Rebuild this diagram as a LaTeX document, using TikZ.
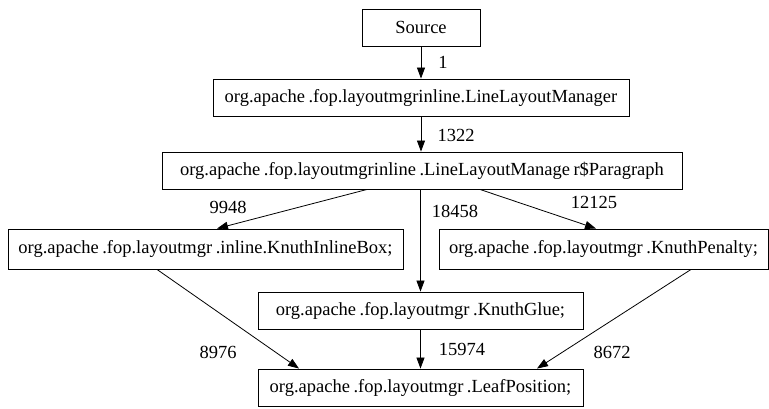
\documentclass[tikz,border=0pt]{standalone}
\usepackage{fontspec}
\setmainfont{Liberation Serif}
\usetikzlibrary{arrows.meta}
\newcommand{\gp}{\kern3.5pt}
\begin{document}
\begin{tikzpicture}[x=1pt,y=1pt,
  box/.style={draw, line width=0.9pt, inner sep=0pt, minimum height=37pt, font=\fontsize{18.5}{22}\selectfont},
  lbl/.style={inner sep=0pt, font=\fontsize{18.5}{22}\selectfont},
  edge/.style={line width=0.8pt, -{Triangle[length=11pt,width=8pt]}}]
\useasboundingbox (0,0) rectangle (769,-408);
\node[box, minimum width=118pt] (src) at (421,-27.5) {Source};
\node[box, minimum width=416pt] (llm) at (421,-97.5) {org.apache\gp.fop.layoutmgrinline.LineLayoutManager};
\node[box, minimum width=520pt] (para) at (422,-170.5) {org.apache\gp.fop.layoutmgrinline\gp.LineLayoutManage\gp r\$Paragraph};
\node[box, minimum width=395pt, minimum height=40pt] (inl) at (205.5,-249) {org.apache\gp.fop.layoutmgr\gp.inline.KnuthInlineBox;};
\node[box, minimum width=329pt, minimum height=40pt] (pen) at (603.5,-249) {org.apache\gp.fop.layoutmgr\gp.KnuthPenalty;};
\node[box, minimum width=325pt] (glue) at (420.5,-310.5) {org.apache\gp.fop.layoutmgr\gp.KnuthGlue;};
\node[box, minimum width=325pt] (leaf) at (420.5,-387.5) {org.apache\gp.fop.layoutmgr\gp.LeafPosition;};
\draw[edge] (src.south) -- (llm.north);
\draw[edge] (llm.south) -- (llm.south |- para.north);
\draw[edge] ([xshift=-55pt]para.south) -- ([xshift=11.5pt]inl.north);
\draw[edge] (para.south -| glue.north) -- (glue.north);
\draw[edge] ([xshift=58pt]para.south) -- ([xshift=-7.5pt]pen.north);
\draw[edge] ([xshift=-48.5pt]inl.south) -- ([xshift=-121.5pt]leaf.north);
\draw[edge] (glue.south) -- (leaf.north);
\draw[edge] ([xshift=87.5pt]pen.south) -- ([xshift=116.5pt]leaf.north);
\node[lbl] (l1) at (443,-62) {1};
\node[lbl] (l2) at (456,-135) {1322};
\node[lbl] (l3) at (228,-207) {9948};
\node[lbl] (l4) at (455,-211) {18458};
\node[lbl] (l5) at (594,-202) {12125};
\node[lbl] (l6) at (218,-352) {8976};
\node[lbl] (l7) at (462,-349) {15974};
\node[lbl] (l8) at (612,-352) {8672};
\end{tikzpicture}
\end{document}
